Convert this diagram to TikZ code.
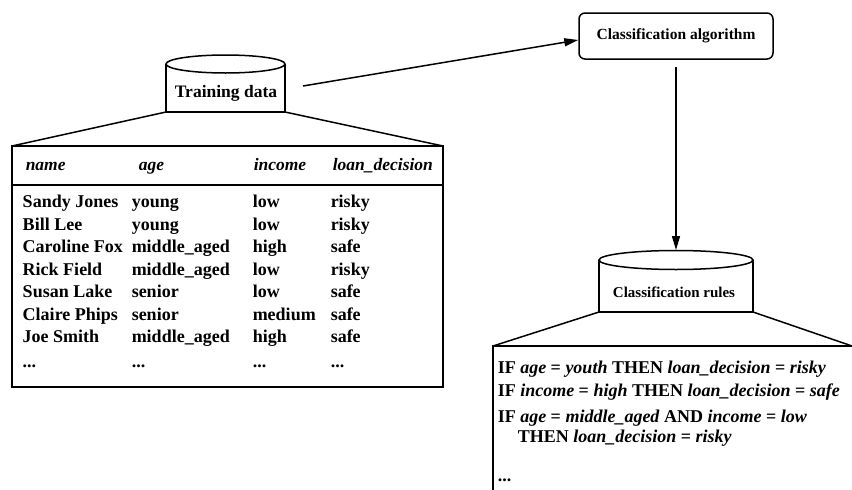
\documentclass[tikz,border=0pt]{standalone}
\usepackage{fontspec}
\setmainfont{Liberation Serif}
\usetikzlibrary{arrows.meta}
\begin{document}
\begin{tikzpicture}[x=1pt,y=-1pt,line width=1.5pt,
  txt/.style={inner sep=0pt,anchor=west,font=\fontsize{18}{18}\selectfont\bfseries,text height=13pt,text depth=4pt},
  hd/.style={txt,font=\fontsize{17.5}{17.5}\selectfont\bfseries\itshape},
  ruletxt/.style={inner sep=0pt,anchor=west,font=\fontsize{18}{18}\selectfont\bfseries,text height=13pt,text depth=4pt},
  cyllab/.style={inner sep=0pt,font=\fontsize{17.5}{17.5}\selectfont\bfseries},
  algobox/.style={draw,rounded corners=6pt,minimum width=194pt,minimum height=46pt,inner sep=0pt,font=\fontsize{15.5}{15.5}\selectfont\bfseries},
  arr/.style={-{Triangle[length=14pt,width=8pt]},line width=1.5pt}]
\clip (0,0) rectangle (852,490);
\fill[white] (0,0) rectangle (852,490);

% Training data cylinder
\draw (166,64) -- (166,112) -- (285,112) -- (285,64);
\draw (225.5,64) ellipse [x radius=59.5pt,y radius=9pt];
\node[cyllab] (train) at (226,93) {Training data};
\coordinate (trainout) at (303,86);

% table
\draw (166,112) -- (12,146);
\draw (285,112) -- (443,146);
\draw (12,146) rectangle (443,387);
\draw (12,185) -- (443,185);
\node[hd] (hname) at (25,166) {name};
\node[hd] (hage) at (138,166) {age};
\node[hd] (hinc) at (253,166) {income};
\node[hd] (hdec) at (332,166) {loan\_decision};
\foreach \na/\ag/\inc/\de [count=\k] in {Sandy Jones/young/low/risky,Bill Lee/young/low/risky,Caroline Fox/middle\_aged/high/safe,Rick Field/middle\_aged/low/risky,Susan Lake/senior/low/safe,Claire Phips/senior/medium/safe,Joe Smith/middle\_aged/high/safe}{
  \node[txt] (name\k) at (22,{203+22.5*(\k-1)}) {\na};
  \node[txt] (age\k) at (131,{203+22.5*(\k-1)}) {\ag};
  \node[txt] (inc\k) at (252,{203+22.5*(\k-1)}) {\inc};
  \node[txt] (dec\k) at (330,{203+22.5*(\k-1)}) {\de};
}
\node[txt] (dots1) at (22,363) {...};
\node[txt] (dots2) at (131,363) {...};
\node[txt] (dots3) at (252,363) {...};
\node[txt] (dots4) at (330,363) {...};

% algorithm
\node[algobox] (algo) at (676,36) {Classification algorithm};
\draw[arr] (trainout) -- ([yshift=-4pt]algo.west);
\coordinate (algoout) at (676,67);
\coordinate (rulesin) at (676,250);
\draw[arr] (algoout) -- (rulesin);

% rules cylinder
\draw (599,260) -- (599,312) -- (753,312) -- (753,260);
\draw (676,260) ellipse [x radius=77pt,y radius=9.5pt];
\node[cyllab,font=\fontsize{15}{15}\selectfont\bfseries] (rules) at (674,292) {Classification rules};

% rules box
\draw (599,312) -- (493,346);
\draw (753,312) -- (852,346);
\draw (493,500) -- (493,346) -- (860,346);
\node[ruletxt] (r1) at (497,369) {IF \textit{age} = \textit{youth} THEN \textit{loan\_decision} = \textit{risky}};
\node[ruletxt] (r2) at (497,392) {IF \textit{income} = \textit{high} THEN \textit{loan\_decision} = \textit{safe}};
\node[ruletxt] (r3) at (497,418) {IF \textit{age} = \textit{middle\_aged} AND \textit{income} = \textit{low}};
\node[ruletxt] (r4) at (517,438) {THEN \textit{loan\_decision} = \textit{risky}};
\node[ruletxt] (r5) at (497,477) {...};
\end{tikzpicture}
\end{document}
